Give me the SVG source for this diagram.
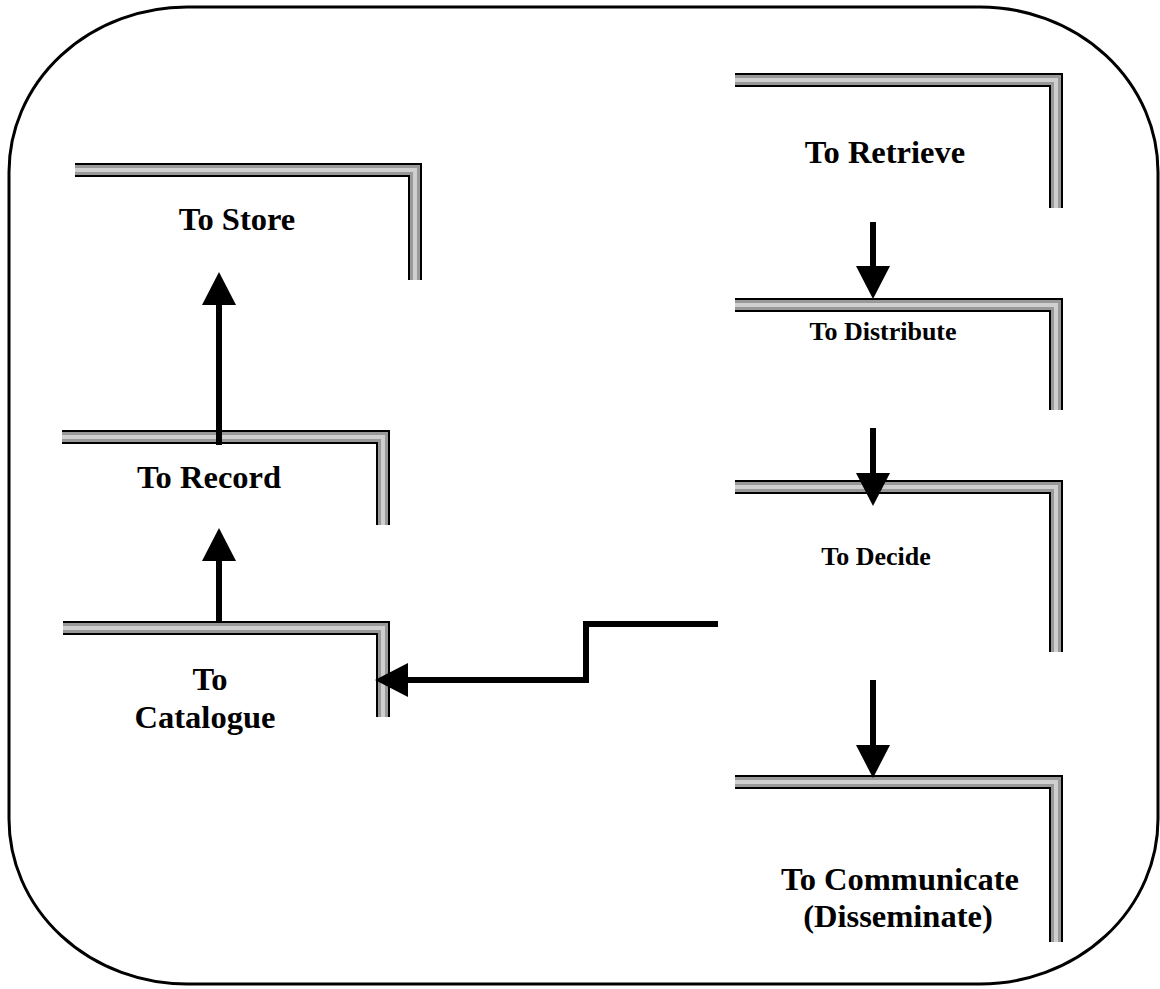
<svg xmlns="http://www.w3.org/2000/svg" width="1160" height="989" viewBox="0 0 1160 989">
<style>
.bo{fill:none;stroke:#000;stroke-width:14;stroke-linejoin:miter}
.bm{fill:none;stroke:#999;stroke-width:10;stroke-linejoin:miter}
.bl{fill:none;stroke:#cfcfcf;stroke-width:4;stroke-linejoin:miter}
.t{font-family:"Liberation Serif","Times New Roman",serif;font-weight:bold;fill:#000;text-anchor:middle}
.big{font-size:32.5px}
.sm{font-size:26px}
.c{fill:none;stroke:#000;stroke-width:6;stroke-linejoin:miter}
</style>
<defs>
<marker id="ah" markerUnits="userSpaceOnUse" markerWidth="34" markerHeight="36" refX="0" refY="17" orient="auto" viewBox="0 0 34 34">
<path d="M0,0 L33,17 L0,34 z" fill="#000"/>
</marker>
</defs>
<rect x="9" y="7" width="1149" height="977" rx="178" ry="165" fill="#fff" stroke="#000" stroke-width="3"/>
<g id="store">
<path class="bo" d="M75,170 H415 V280"/><path class="bm" d="M75,170 H415 V280"/><path class="bl" d="M75,170 H415 V280"/>
<text class="t big" x="237" y="230">To Store</text>
</g>
<g id="record">
<path class="bo" d="M62,437 H383 V525"/><path class="bm" d="M62,437 H383 V525"/><path class="bl" d="M62,437 H383 V525"/>
<text class="t big" x="209" y="488">To Record</text>
</g>
<g id="catalogue">
<path class="bo" d="M63,628 H383 V717"/><path class="bm" d="M63,628 H383 V717"/><path class="bl" d="M63,628 H383 V717"/>
<text class="t big" x="210" y="690">To</text>
<text class="t big" x="205" y="728">Catalogue</text>
</g>
<g id="retrieve">
<path class="bo" d="M735,80 H1056 V208"/><path class="bm" d="M735,80 H1056 V208"/><path class="bl" d="M735,80 H1056 V208"/>
<text class="t big" x="885" y="163">To Retrieve</text>
</g>
<g id="distribute">
<path class="bo" d="M735,305 H1056 V410"/><path class="bm" d="M735,305 H1056 V410"/><path class="bl" d="M735,305 H1056 V410"/>
<text class="t sm" x="883" y="340">To Distribute</text>
</g>
<g id="decide">
<path class="bo" d="M735,487 H1056 V652"/><path class="bm" d="M735,487 H1056 V652"/><path class="bl" d="M735,487 H1056 V652"/>
<text class="t sm" x="876" y="565">To Decide</text>
</g>
<g id="communicate">
<path class="bo" d="M735,782 H1056 V942"/><path class="bm" d="M735,782 H1056 V942"/><path class="bl" d="M735,782 H1056 V942"/>
<text class="t big" x="900" y="890">To Communicate</text>
<text class="t big" x="898" y="927">(Disseminate)</text>
</g>
<g id="connectors">
<path class="c" d="M219,445 V305" marker-end="url(#ah)"/>
<path class="c" d="M219,622 V561" marker-end="url(#ah)"/>
<path class="c" d="M873,222 V266" marker-end="url(#ah)"/>
<path class="c" d="M873,428 V473" marker-end="url(#ah)"/>
<path class="c" d="M873,680 V745" marker-end="url(#ah)"/>
<path class="c" d="M718,624 H586 V680 H408" marker-end="url(#ah)"/>
</g>
</svg>
